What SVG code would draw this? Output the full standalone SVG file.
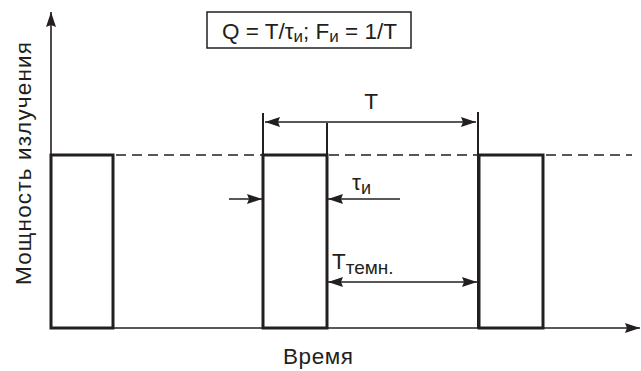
<svg xmlns="http://www.w3.org/2000/svg" width="641" height="371" viewBox="0 0 641 371">
<style>
.t{font-family:"Liberation Sans",Arial,sans-serif;fill:#231f20}
.pulse{fill:none;stroke:#231f20;stroke-width:3}
.thin{stroke:#231f20;stroke-width:1.6;fill:none}
.ext{stroke:#231f20;stroke-width:2;fill:none}
.dash{stroke:#231f20;stroke-width:1.5;stroke-dasharray:10,6;fill:none}
</style>
<defs>
<marker id="ah" viewBox="0 0 15 10" refX="15" refY="5" markerWidth="15" markerHeight="10" markerUnits="userSpaceOnUse" orient="auto-start-reverse">
<path d="M0,0 L15,5 L0,10 L2,5 Z" fill="#231f20"/>
</marker>
</defs>
<g id="axes">
<line class="thin" x1="51" y1="328" x2="51" y2="12" marker-end="url(#ah)"/>
<line class="thin" x1="51" y1="328" x2="640" y2="328" marker-end="url(#ah)"/>
</g>
<g id="connectors">
<line class="dash" x1="116" y1="155" x2="263" y2="155"/>
<line class="dash" x1="329" y1="155" x2="478" y2="155"/>
<line class="dash" x1="546" y1="155" x2="632" y2="155"/>
<line class="ext" x1="263" y1="113" x2="263" y2="328"/>
<line class="ext" x1="327" y1="123" x2="327" y2="328"/>
<line class="ext" x1="478" y1="112" x2="478" y2="328"/>
<line class="thin" x1="265" y1="122" x2="476" y2="122" marker-start="url(#ah)" marker-end="url(#ah)"/>
<line class="thin" x1="229" y1="199" x2="262" y2="199" marker-end="url(#ah)"/>
<line class="thin" x1="400" y1="199" x2="328" y2="199" marker-end="url(#ah)"/>
<line class="thin" x1="328" y1="282" x2="477" y2="282" marker-start="url(#ah)" marker-end="url(#ah)"/>
</g>
<g id="pulse1"><rect class="pulse" x="51" y="155" width="62" height="173"/></g>
<g id="pulse2"><rect class="pulse" x="263" y="155" width="64" height="173"/></g>
<g id="pulse3"><rect class="pulse" x="479" y="155" width="64" height="173"/></g>
<g id="formula">
<rect x="207" y="12" width="204" height="36" fill="none" stroke="#231f20" stroke-width="1.5"/>
<text class="t" x="222" y="39" font-size="22.5" textLength="175" lengthAdjust="spacing">Q = T/τ<tspan font-size="17" dy="3">и</tspan><tspan dy="-3">; F</tspan><tspan font-size="17" dy="3">и</tspan><tspan dy="-3"> = 1/T</tspan></text>
</g>
<g id="labels">
<text class="t" x="371" y="109" font-size="22.5" text-anchor="middle">T</text>
<text class="t" x="352" y="190" font-size="22.5">τ<tspan font-size="18" dy="4">и</tspan></text>
<text class="t" x="332" y="269" font-size="22.5">T<tspan font-size="19" dy="5">темн.</tspan></text>
<text class="t" x="283" y="364" font-size="22.5" textLength="70" lengthAdjust="spacing">Время</text>
<text class="t" x="0" y="0" font-size="22.5" textLength="243" lengthAdjust="spacing" transform="translate(31,285) rotate(-90)">Мощность излучения</text>
</g>
</svg>
